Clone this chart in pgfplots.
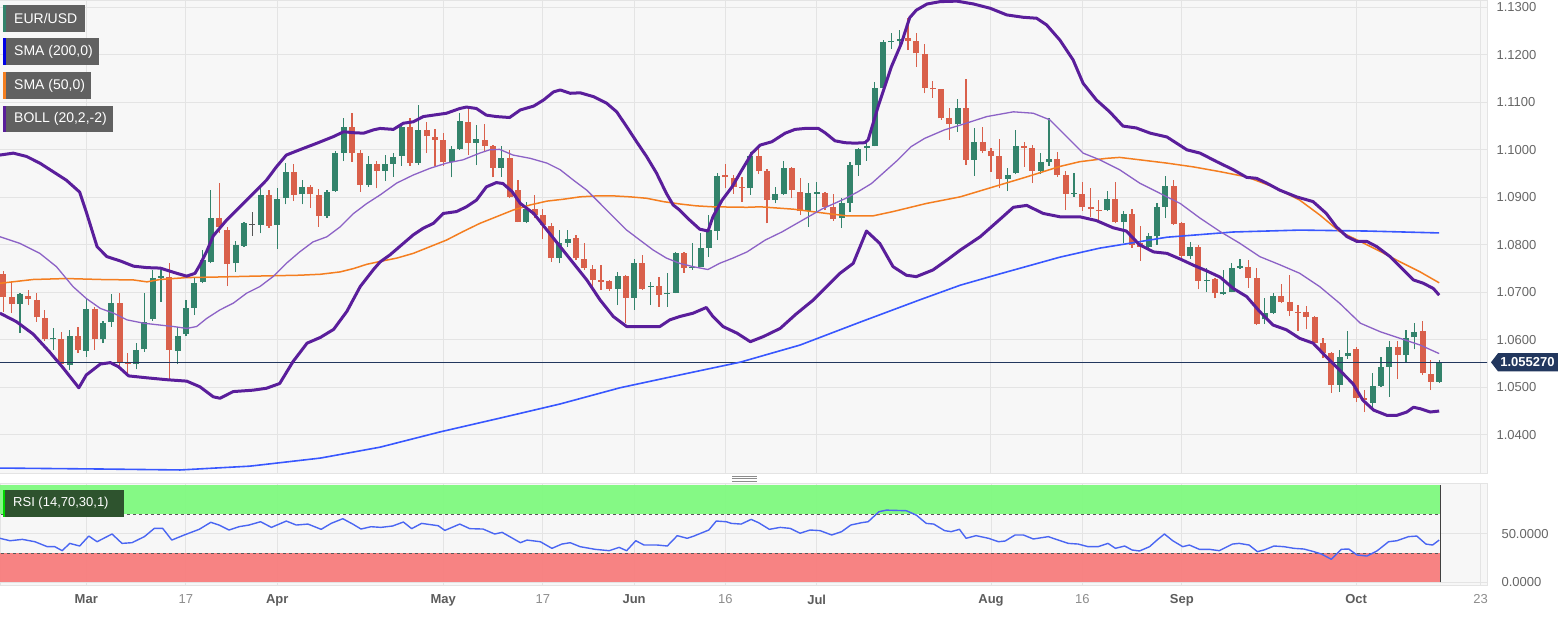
\documentclass[border=0pt]{standalone}
\usepackage{fontspec}
\setmainfont{Liberation Sans}
\usepackage{pgfplots}
\usepackage{pgfplotstable}
\pgfplotsset{compat=1.18}
\definecolor{bg}{HTML}{F7F7F7}
\definecolor{gridc}{HTML}{E4E4E4}
\definecolor{cgreen}{HTML}{33836B}
\definecolor{cred}{HTML}{D9604B}
\definecolor{cgray}{HTML}{555555}
\definecolor{bbthick}{HTML}{5A1E9B}
\definecolor{bbmid}{HTML}{8C62C6}
\definecolor{smafifty}{HTML}{F47E20}
\definecolor{smatwo}{HTML}{3857FF}
\definecolor{navy}{HTML}{22375E}
\definecolor{rsiline}{HTML}{4A66F2}
\definecolor{bandg}{HTML}{7DFA7D}
\definecolor{bandr}{HTML}{F87B7B}
\definecolor{legfill}{HTML}{616161}
\definecolor{rsifill}{HTML}{2E532E}
\definecolor{ticktext}{HTML}{666666}
\definecolor{monthtext}{HTML}{5C5C5C}
\definecolor{daytext}{HTML}{8C8C8C}

\pgfplotstableread{
j o h l c
2 1.0675 1.0699 1.0614 1.0696
6 1.0601 1.0625 1.0579 1.0603
8 1.0547 1.0621 1.0536 1.0608
10 1.0577 1.0687 1.0564 1.0665
12 1.0601 1.0640 1.0593 1.0635
13 1.0637 1.0696 1.0628 1.0677
16 1.0549 1.0593 1.0538 1.0579
17 1.0580 1.0699 1.0575 1.0637
18 1.0643 1.0747 1.0640 1.0731
19 1.0731 1.0747 1.0680 1.0735
21 1.0577 1.0628 1.0549 1.0609
22 1.0612 1.0684 1.0608 1.0666
23 1.0668 1.0730 1.0652 1.0720
24 1.0722 1.0789 1.0719 1.0768
25 1.0764 1.0915 1.0761 1.0856
28 1.0761 1.0807 1.0743 1.0800
29 1.0798 1.0849 1.0796 1.0845
31 1.0842 1.0926 1.0824 1.0905
33 1.0842 1.0919 1.0791 1.0896
34 1.0898 1.0973 1.0885 1.0954
36 1.0906 1.0936 1.0885 1.0922
39 1.0861 1.0915 1.0856 1.0912
40 1.0913 1.0998 1.0912 1.0993
41 1.0994 1.1068 1.0976 1.1047
44 1.0926 1.0986 1.0922 1.0971
46 1.0956 1.0989 1.0935 1.0970
47 1.0971 1.0993 1.0943 1.0985
48 1.0987 1.1056 1.0966 1.1047
50 1.0973 1.1094 1.0968 1.1042
54 1.0975 1.1007 1.0942 1.1001
55 1.1001 1.1077 1.1000 1.1061
57 1.1015 1.1052 1.0968 1.1022
60 1.0962 1.1008 1.0943 1.0982
63 1.0849 1.0891 1.0845 1.0875
67 1.0772 1.0831 1.0761 1.0803
68 1.0804 1.0831 1.0796 1.0812
74 1.0708 1.0743 1.0673 1.0735
76 1.0689 1.0770 1.0663 1.0761
78 1.0711 1.0722 1.0673 1.0714
80 1.0696 1.0740 1.0670 1.0699
81 1.0699 1.0785 1.0698 1.0782
83 1.0751 1.0803 1.0747 1.0754
84 1.0754 1.0824 1.0754 1.0794
85 1.0794 1.0863 1.0775 1.0831
86 1.0830 1.0951 1.0810 1.0945
90 1.0919 1.0996 1.0905 1.0988
93 1.0894 1.0922 1.0887 1.0906
94 1.0906 1.0977 1.0905 1.0961
97 1.0871 1.0931 1.0838 1.0910
98 1.0908 1.0933 1.0870 1.0912
101 1.0856 1.0898 1.0835 1.0887
102 1.0889 1.0975 1.0870 1.0967
103 1.0967 1.1003 1.0945 1.1001
104 1.1003 1.1014 1.0977 1.1008
105 1.1008 1.1143 1.1007 1.1131
106 1.1131 1.1231 1.1130 1.1226
107 1.1226 1.1245 1.1212 1.1229
108 1.1229 1.1252 1.1210 1.1233
115 1.1054 1.1107 1.1038 1.1087
117 1.0979 1.1045 1.0945 1.1017
121 1.0939 1.0961 1.0913 1.0948
122 1.0951 1.1042 1.0949 1.1009
125 1.0956 1.0994 1.0949 1.0975
126 1.0975 1.1066 1.0966 1.0981
129 1.0907 1.0951 1.0901 1.0909
133 1.0873 1.0913 1.0871 1.0896
135 1.0847 1.0871 1.0803 1.0864
138 1.0796 1.0825 1.0793 1.0818
139 1.0818 1.0888 1.0800 1.0880
140 1.0880 1.0945 1.0856 1.0924
143 1.0776 1.0806 1.0771 1.0795
145 1.0724 1.0751 1.0701 1.0726
147 1.0696 1.0746 1.0695 1.0701
148 1.0701 1.0761 1.0700 1.0751
149 1.0751 1.0770 1.0749 1.0755
152 1.0643 1.0687 1.0633 1.0657
153 1.0656 1.0699 1.0654 1.0692
161 1.0505 1.0579 1.0491 1.0564
162 1.0565 1.0618 1.0560 1.0573
165 1.0467 1.0530 1.0456 1.0503
166 1.0503 1.0564 1.0501 1.0543
167 1.0543 1.0598 1.0480 1.0585
169 1.0568 1.0621 1.0554 1.0603
170 1.0605 1.0635 1.0580 1.0617
173 1.0512 1.0557 1.0510 1.0553
}\greentab

\pgfplotstableread{
j o h l c
0 1.0738 1.0745 1.0659 1.0691
1 1.0690 1.0722 1.0656 1.0675
3 1.0693 1.0705 1.0673 1.0686
4 1.0684 1.0698 1.0638 1.0647
5 1.0645 1.0663 1.0598 1.0602
7 1.0602 1.0617 1.0540 1.0549
9 1.0608 1.0628 1.0572 1.0579
11 1.0665 1.0670 1.0579 1.0601
14 1.0677 1.0698 1.0543 1.0551
15 1.0554 1.0572 1.0526 1.0549
20 1.0733 1.0761 1.0515 1.0579
26 1.0856 1.0930 1.0824 1.0837
27 1.0831 1.0838 1.0713 1.0760
32 1.0905 1.0915 1.0836 1.0840
35 1.0953 1.0971 1.0892 1.0905
37 1.0922 1.0926 1.0877 1.0906
38 1.0905 1.0918 1.0838 1.0861
42 1.1047 1.1077 1.0975 1.0993
43 1.0993 1.1000 1.0912 1.0926
45 1.0971 1.0977 1.0919 1.0956
49 1.1047 1.1068 1.0966 1.0973
51 1.1042 1.1059 1.0993 1.1029
52 1.1028 1.1044 1.0966 1.1021
53 1.1020 1.1036 1.0966 1.0975
56 1.1059 1.1090 1.0989 1.1014
58 1.1021 1.1054 1.0995 1.1008
59 1.1008 1.1010 1.0942 1.0962
61 1.0982 1.1000 1.0898 1.0901
62 1.0915 1.0936 1.0847 1.0849
64 1.0875 1.0905 1.0856 1.0863
65 1.0863 1.0875 1.0812 1.0842
66 1.0840 1.0845 1.0764 1.0772
69 1.0814 1.0821 1.0768 1.0772
70 1.0770 1.0803 1.0747 1.0751
71 1.0749 1.0758 1.0708 1.0726
72 1.0726 1.0758 1.0705 1.0722
73 1.0724 1.0726 1.0703 1.0708
75 1.0735 1.0736 1.0635 1.0689
77 1.0761 1.0779 1.0705 1.0708
79 1.0714 1.0733 1.0670 1.0694
82 1.0782 1.0785 1.0741 1.0751
87 1.0946 1.0971 1.0919 1.0942
88 1.0940 1.0948 1.0908 1.0922
89 1.0922 1.0943 1.0891 1.0919
91 1.0988 1.1007 1.0949 1.0955
92 1.0955 1.0959 1.0845 1.0894
95 1.0961 1.0964 1.0898 1.0915
96 1.0912 1.0941 1.0863 1.0871
99 1.0910 1.0912 1.0873 1.0880
100 1.0880 1.0908 1.0851 1.0854
109 1.1235 1.1277 1.1210 1.1230
110 1.1229 1.1245 1.1175 1.1203
111 1.1201 1.1223 1.1119 1.1131
112 1.1131 1.1145 1.1110 1.1127
113 1.1127 1.1128 1.1063 1.1066
114 1.1066 1.1087 1.1021 1.1054
116 1.1087 1.1149 1.0968 1.0979
118 1.1017 1.1047 1.0993 1.0998
119 1.0998 1.1003 1.0954 1.0986
120 1.0986 1.1022 1.0919 1.0939
123 1.1009 1.1017 1.0964 1.1004
124 1.1003 1.1011 1.0930 1.0956
127 1.0981 1.0996 1.0943 1.0947
128 1.0947 1.0955 1.0873 1.0907
130 1.0908 1.0933 1.0872 1.0880
131 1.0880 1.0919 1.0859 1.0875
132 1.0874 1.0894 1.0851 1.0871
134 1.0896 1.0933 1.0845 1.0847
136 1.0864 1.0876 1.0794 1.0800
137 1.0803 1.0839 1.0766 1.0796
141 1.0924 1.0936 1.0842 1.0844
142 1.0845 1.0849 1.0772 1.0776
144 1.0795 1.0800 1.0706 1.0724
146 1.0727 1.0731 1.0687 1.0698
150 1.0754 1.0767 1.0710 1.0730
151 1.0730 1.0751 1.0631 1.0633
154 1.0692 1.0717 1.0677 1.0680
155 1.0679 1.0736 1.0650 1.0661
156 1.0659 1.0673 1.0619 1.0657
157 1.0659 1.0671 1.0622 1.0648
158 1.0648 1.0650 1.0593 1.0594
159 1.0594 1.0603 1.0561 1.0573
160 1.0573 1.0575 1.0489 1.0505
163 1.0580 1.0584 1.0469 1.0477
164 1.0477 1.0494 1.0448 1.0473
168 1.0585 1.0598 1.0517 1.0568
171 1.0618 1.0640 1.0526 1.0530
172 1.0528 1.0557 1.0494 1.0512
}\redtab

\pgfplotstableread{
j o h l c
30 1.0842 1.0870 1.0819 1.0844
}\graytab

\newcommand{\tickfont}{\fontsize{13}{15}\selectfont}

\begin{document}
\begin{tikzpicture}
\useasboundingbox (0pt,0pt) rectangle (1558pt,622pt);

% ================= main price panel =================
\begin{axis}[
  at={(0pt,149pt)}, anchor=south west,
  width=1487pt, height=473pt, scale only axis,
  xmin=-0.398, xmax=178.76,
  ymin=1.03196, ymax=1.13154,
  axis background/.style={fill=bg},
  axis line style={draw=gridc, line width=1pt},
  xtick={10,22,33,53,65,76,87,98,119,130,142,163,178},
  xticklabels={},
  ytick={1.04,1.05,1.06,1.07,1.08,1.09,1.10,1.11,1.12,1.13},
  yticklabels={1.0400,1.0500,1.0600,1.0700,1.0800,1.0900,1.1000,1.1100,1.1200,1.1300},
  yticklabel pos=right,
  yticklabel style={font=\tickfont, text=ticktext, anchor=west, xshift=6pt},
  major tick length=0pt,
  grid=major, major grid style={draw=gridc, line width=1pt},
]
% candles: wicks then bodies
\addplot[draw=none, mark=none, error bars/.cd, y dir=plus, y explicit, error mark=none,
  error bar style={draw=cgreen, line width=1.2pt}]
  table[x=j, y=l, y error expr=\thisrow{h}-\thisrow{l}] {\greentab};
\addplot[draw=none, mark=none, error bars/.cd, y dir=plus, y explicit, error mark=none,
  error bar style={draw=cgreen, line width=6pt}]
  table[x=j, y=o, y error expr=\thisrow{c}-\thisrow{o}] {\greentab};
\addplot[draw=none, mark=none, error bars/.cd, y dir=plus, y explicit, error mark=none,
  error bar style={draw=cred, line width=1.2pt}]
  table[x=j, y=l, y error expr=\thisrow{h}-\thisrow{l}] {\redtab};
\addplot[draw=none, mark=none, error bars/.cd, y dir=plus, y explicit, error mark=none,
  error bar style={draw=cred, line width=6pt}]
  table[x=j, y=c, y error expr=\thisrow{o}-\thisrow{c}] {\redtab};
\addplot[draw=none, mark=none, error bars/.cd, y dir=plus, y explicit, error mark=none,
  error bar style={draw=cgray, line width=1.2pt}]
  table[x=j, y=l, y error expr=\thisrow{h}-\thisrow{l}] {\graytab};
\addplot[draw=none, mark=none, error bars/.cd, y dir=plus, y explicit, error mark=none,
  error bar style={draw=cgray, line width=6pt}]
  table[x=j, y=o, y error expr=\thisrow{c}-\thisrow{o}] {\graytab};

% last price line
\addplot[navy, line width=1.3pt] coordinates {(-1,1.05527) (180,1.05527)};

% SMA 200
\addplot[smatwo, line width=1.6pt] coordinates {
(-0.4,1.0330) (11.7,1.0328) (21.3,1.0326) (29.7,1.0334) (38.2,1.0351) (45.4,1.0374) (52.6,1.0406) (59.8,1.0435) (67.1,1.0465) (74.3,1.0499) (81.5,1.0526) (88.8,1.0553) (96.0,1.0589) (103.2,1.0637) (110.4,1.0684) (115.3,1.0715) (120.1,1.0739) (127.3,1.0774) (132.1,1.0793) (140.2,1.0816) (148.2,1.0827) (156.2,1.0831) (164.3,1.0829) (173.0,1.0825)};

% SMA 50
\addplot[smafifty, line width=1.5pt] coordinates {
(-0.4,1.0719) (3.6,1.0727) (7.6,1.0729) (11.7,1.0727) (15.7,1.0726) (17.3,1.0722) (18.9,1.0727) (22.1,1.0731) (25.3,1.0732) (30.1,1.0734) (35.7,1.0736) (38.2,1.0738) (40.6,1.0743) (42.2,1.0750) (43.8,1.0759) (45.4,1.0765) (47.4,1.0772) (49.4,1.0782) (51.4,1.0796) (53.4,1.0810) (55.4,1.0828) (57.4,1.0845) (59.4,1.0859) (61.4,1.0873) (63.5,1.0884) (65.5,1.0892) (67.5,1.0896) (69.5,1.0901) (71.5,1.0903) (73.5,1.0903) (75.5,1.0901) (77.5,1.0898) (79.5,1.0891) (81.5,1.0886) (83.5,1.0882) (85.5,1.0880) (89.6,1.0879) (91.2,1.0880) (95.2,1.0875) (99.2,1.0866) (101.6,1.0861) (104.8,1.0861) (107.2,1.0870) (111.2,1.0887) (115.3,1.0901) (119.3,1.0922) (123.3,1.0943) (127.3,1.0965) (129.7,1.0975) (132.9,1.0982) (134.5,1.0984) (136.9,1.0979) (140.2,1.0972) (143.4,1.0964) (146.6,1.0954) (149.8,1.0943) (153.0,1.0922) (156.2,1.0894) (158.6,1.0863) (161.0,1.0828) (163.5,1.0807) (165.9,1.0786) (168.3,1.0764) (170.7,1.0743) (173.0,1.0720)};

% Bollinger middle
\addplot[bbmid, line width=1.3pt] coordinates {
(-0.4,1.0817) (2.0,1.0803) (4.4,1.0782) (6.4,1.0754) (8.4,1.0712) (10.0,1.0687) (11.7,1.0666) (13.3,1.0656) (14.9,1.0642) (16.9,1.0635) (18.9,1.0631) (20.5,1.0628) (22.1,1.0624) (23.3,1.0628) (24.5,1.0645) (26.1,1.0663) (27.7,1.0677) (29.3,1.0698) (30.9,1.0712) (32.5,1.0733) (34.1,1.0761) (35.7,1.0785) (37.3,1.0806) (39.0,1.0817) (40.6,1.0838) (42.2,1.0866) (43.8,1.0887) (45.4,1.0905) (47.4,1.0930) (49.4,1.0947) (51.4,1.0961) (53.4,1.0972) (55.4,1.0979) (57.4,1.0993) (58.6,1.1000) (59.8,1.1001) (61.4,1.0989) (63.5,1.0982) (65.5,1.0972) (67.1,1.0958) (68.7,1.0936) (70.3,1.0915) (71.9,1.0887) (73.5,1.0859) (75.1,1.0831) (76.7,1.0810) (78.3,1.0789) (79.9,1.0772) (81.5,1.0761) (83.1,1.0754) (84.9,1.0748) (86.3,1.0761) (87.9,1.0772) (89.6,1.0785) (91.8,1.0810) (93.8,1.0827) (96.6,1.0855) (98.7,1.0876) (101.4,1.0897) (103.0,1.0912) (104.6,1.0929) (106.2,1.0954) (107.8,1.0979) (109.4,1.1007) (111.0,1.1024) (113.4,1.1042) (115.3,1.1052) (118.5,1.1070) (121.7,1.1080) (124.1,1.1077) (126.1,1.1063) (128.1,1.1028) (130.1,1.0993) (132.1,1.0979) (134.5,1.0958) (136.9,1.0930) (139.4,1.0908) (141.8,1.0887) (144.2,1.0856) (146.6,1.0828) (149.0,1.0803) (151.4,1.0775) (153.8,1.0758) (156.2,1.0740) (158.6,1.0712) (161.0,1.0677) (163.5,1.0635) (165.9,1.0617) (168.3,1.0603) (170.7,1.0589) (173.0,1.0571)};

% Bollinger upper
\addplot[bbthick, line width=3pt, line join=round] coordinates {
(-0.4,1.0989) (1.2,1.0993) (2.8,1.0986) (4.4,1.0972) (6.0,1.0954) (7.6,1.0936) (9.2,1.0911) (10.0,1.0869) (11.3,1.0796) (12.5,1.0775) (14.1,1.0766) (15.7,1.0755) (17.3,1.0752) (18.9,1.0751) (20.9,1.0740) (22.1,1.0734) (23.1,1.0740) (23.7,1.0758) (24.5,1.0786) (25.3,1.0819) (26.9,1.0852) (28.5,1.0880) (30.1,1.0908) (31.7,1.0936) (32.9,1.0964) (34.1,1.0989) (35.7,1.1000) (37.8,1.1014) (39.8,1.1028) (41.0,1.1038) (42.2,1.1036) (43.4,1.1035) (44.6,1.1042) (45.4,1.1045) (47.0,1.1043) (48.2,1.1056) (49.4,1.1059) (50.6,1.1070) (51.8,1.1073) (53.4,1.1077) (55.0,1.1087) (55.8,1.1090) (57.0,1.1087) (58.2,1.1073) (59.4,1.1070) (61.0,1.1068) (62.3,1.1084) (63.9,1.1092) (65.1,1.1105) (66.3,1.1122) (67.1,1.1126) (68.3,1.1119) (69.5,1.1120) (71.1,1.1112) (72.7,1.1098) (73.9,1.1080) (75.1,1.1049) (76.3,1.1017) (77.5,1.0986) (78.7,1.0951) (79.9,1.0908) (80.7,1.0884) (81.5,1.0873) (82.7,1.0852) (83.9,1.0833) (84.9,1.0829) (85.5,1.0859) (86.6,1.0894) (87.8,1.0922) (89.0,1.0958) (90.2,1.0993) (91.2,1.1010) (92.6,1.1017) (94.2,1.1035) (95.4,1.1043) (96.6,1.1045) (98.2,1.1045) (99.0,1.1036) (100.2,1.1019) (101.4,1.1015) (102.6,1.1014) (103.8,1.1015) (104.2,1.1021) (104.8,1.1056) (105.4,1.1091) (106.2,1.1133) (107.0,1.1175) (108.2,1.1224) (109.2,1.1278) (110.0,1.1294) (111.3,1.1307) (112.9,1.1312) (114.9,1.1313) (116.9,1.1307) (118.9,1.1298) (120.9,1.1284) (122.9,1.1279) (124.5,1.1277) (125.7,1.1263) (127.3,1.1231) (128.9,1.1189) (130.1,1.1140) (131.7,1.1105) (133.3,1.1080) (134.9,1.1050) (136.5,1.1046) (138.2,1.1035) (140.2,1.1027) (142.6,1.1000) (144.2,1.0993) (146.2,1.0975) (148.2,1.0958) (149.8,1.0942) (151.0,1.0940) (152.2,1.0930) (153.8,1.0915) (155.8,1.0901) (157.8,1.0891) (159.4,1.0866) (160.6,1.0838) (161.9,1.0817) (163.1,1.0807) (164.3,1.0807) (165.5,1.0796) (167.1,1.0775) (168.3,1.0754) (169.9,1.0726) (171.1,1.0719) (172.3,1.0708) (173.0,1.0694)};

% Bollinger lower
\addplot[bbthick, line width=3pt, line join=round] coordinates {
(-0.4,1.0656) (1.6,1.0638) (3.6,1.0612) (5.6,1.0574) (7.2,1.0541) (9.1,1.0499) (10.0,1.0526) (11.7,1.0549) (12.9,1.0552) (13.9,1.0543) (15.1,1.0524) (17.3,1.0520) (19.7,1.0516) (22.1,1.0513) (23.7,1.0501) (25.3,1.0480) (26.1,1.0477) (27.7,1.0491) (30.1,1.0494) (31.7,1.0498) (33.3,1.0508) (34.9,1.0554) (36.6,1.0593) (38.2,1.0605) (39.8,1.0622) (41.4,1.0660) (43.0,1.0712) (44.6,1.0748) (45.4,1.0764) (46.6,1.0779) (48.2,1.0803) (49.4,1.0821) (50.6,1.0835) (51.8,1.0845) (53.0,1.0866) (54.6,1.0870) (55.8,1.0880) (57.0,1.0894) (58.2,1.0922) (59.4,1.0931) (60.2,1.0929) (61.3,1.0912) (62.3,1.0887) (63.9,1.0866) (65.5,1.0831) (67.1,1.0796) (68.7,1.0761) (70.3,1.0726) (71.9,1.0684) (73.5,1.0649) (75.1,1.0628) (77.1,1.0628) (79.1,1.0628) (80.3,1.0642) (81.5,1.0649) (83.1,1.0656) (84.7,1.0668) (85.5,1.0649) (86.7,1.0628) (88.4,1.0614) (90.0,1.0596) (91.6,1.0607) (93.6,1.0624) (95.5,1.0654) (97.6,1.0684) (99.2,1.0712) (100.8,1.0740) (102.4,1.0761) (104.0,1.0829) (105.6,1.0803) (107.2,1.0754) (108.8,1.0736) (110.0,1.0733) (112.0,1.0747) (113.7,1.0768) (115.3,1.0789) (117.7,1.0817) (120.1,1.0854) (121.7,1.0879) (123.3,1.0883) (125.3,1.0866) (127.3,1.0859) (129.7,1.0859) (131.7,1.0851) (133.7,1.0836) (135.3,1.0829) (136.9,1.0800) (138.6,1.0785) (140.2,1.0782) (141.8,1.0770) (143.4,1.0757) (145.0,1.0745) (146.6,1.0732) (148.2,1.0708) (149.8,1.0691) (151.4,1.0659) (153.0,1.0631) (154.6,1.0621) (156.2,1.0603) (157.8,1.0593) (159.4,1.0564) (161.0,1.0536) (162.6,1.0508) (163.8,1.0473) (165.1,1.0452) (166.7,1.0441) (167.9,1.0441) (169.1,1.0448) (169.9,1.0458) (170.7,1.0455) (171.9,1.0448) (173.0,1.0450)};
\end{axis}

% ================= RSI panel =================
\begin{axis}[
  at={(0pt,36.8pt)}, anchor=south west,
  width=1487pt, height=101.4pt, scale only axis,
  xmin=-0.398, xmax=178.76, ymin=-3, ymax=101,
  axis background/.style={fill=bg},
  axis line style={draw=gridc, line width=1pt},
  xtick={10,22,33,53,65,76,87,98,119,130,142,163,178},
  xticklabels={{\bfseries\color{monthtext}Mar},{\color{daytext}17},{\bfseries\color{monthtext}Apr},{\bfseries\color{monthtext}May},{\color{daytext}17},{\bfseries\color{monthtext}Jun},{\color{daytext}16},{\bfseries\color{monthtext}Jul},{\bfseries\color{monthtext}Aug},{\color{daytext}16},{\bfseries\color{monthtext}Sep},{\bfseries\color{monthtext}Oct},{\color{daytext}23}},
  xticklabel style={font=\tickfont, yshift=-6pt},
  ytick={0,50}, yticklabels={0.0000,50.0000},
  yticklabel pos=right,
  yticklabel style={font=\tickfont, text=ticktext, anchor=west, xshift=11pt},
  major tick length=0pt,
  grid=major, major grid style={draw=gridc, line width=1pt},
]
\fill[bandg, fill opacity=0.93] (axis cs:-1,70) rectangle (axis cs:173.1,100);
\fill[bandr, fill opacity=0.93] (axis cs:-1,0) rectangle (axis cs:173.1,30);
\draw[black!65, dashed, line width=0.9pt] (axis cs:-1,70) -- (axis cs:173.1,70);
\draw[black!65, dashed, line width=0.9pt] (axis cs:-1,30) -- (axis cs:173.1,30);
\draw[black!75, line width=1pt] (axis cs:173.1,0) -- (axis cs:173.1,100);
\addplot[rsiline, line width=1.4pt, line join=round] coordinates {
(-0.4,45.1) (0.8,42.6) (2.3,44.0) (3.8,41.6) (5.3,36.5) (6.2,36.5) (7.1,32.4) (8.0,39.9) (9.2,37.2) (10.3,47.4) (11.3,41.6) (13.1,49.5) (14.3,39.9) (15.5,40.6) (17.0,46.8) (18.2,55.3) (19.2,55.3) (20.3,43.3) (21.8,48.5) (23.6,54.3) (25.0,61.5) (26.0,58.7) (27.2,53.6) (28.4,57.0) (29.6,58.7) (31.0,62.1) (32.3,56.3) (34.1,62.8) (35.3,58.7) (36.7,59.7) (38.3,54.3) (39.5,60.4) (40.9,65.2) (42.1,59.7) (43.1,54.6) (44.3,57.0) (45.5,56.3) (46.9,57.7) (48.2,61.8) (49.2,55.0) (50.4,60.4) (52.4,58.0) (53.2,53.2) (55.0,59.7) (56.2,55.0) (57.8,54.6) (59.2,49.5) (60.1,51.2) (62.3,40.6) (63.1,43.3) (64.7,41.6) (66.1,34.8) (67.3,39.2) (68.3,40.6) (69.5,36.5) (71.3,33.8) (73.0,32.4) (74.2,35.8) (75.1,32.4) (76.2,42.6) (77.2,38.2) (78.8,38.2) (80.0,37.2) (81.2,47.8) (82.4,45.1) (83.2,47.4) (85.0,53.6) (85.9,62.8) (87.1,62.1) (87.7,60.4) (88.9,59.7) (90.1,64.5) (91.0,61.1) (92.3,54.3) (93.6,56.3) (94.8,55.3) (96.0,50.3) (97.2,53.6) (98.4,53.0) (99.8,48.5) (101.0,51.9) (102.1,58.7) (103.4,61.1) (104.2,62.1) (105.5,72.4) (106.4,74.0) (108.8,73.4) (110.0,68.9) (111.2,60.4) (112.1,59.7) (113.4,53.0) (114.2,51.9) (115.2,54.3) (116.0,45.1) (117.2,47.8) (118.7,45.1) (119.9,41.6) (120.7,42.3) (121.9,48.5) (122.9,48.5) (124.1,44.4) (125.9,46.8) (127.1,43.3) (128.3,39.9) (129.5,39.2) (130.7,36.5) (131.9,36.5) (133.1,39.9) (134.0,34.8) (135.1,37.2) (136.0,33.1) (136.9,32.1) (138.1,36.5) (139.1,44.0) (139.9,49.5) (140.9,42.6) (142.1,36.5) (142.9,38.2) (144.1,33.8) (145.3,33.8) (146.5,32.4) (148.1,39.2) (148.9,39.9) (150.1,38.2) (151.1,31.4) (151.9,33.1) (153.1,37.2) (154.3,36.5) (155.5,34.8) (156.7,34.1) (157.9,31.4) (158.8,29.0) (160.0,23.6) (161.2,33.8) (162.1,34.1) (163.1,28.0) (164.3,26.9) (165.5,32.1) (166.9,41.6) (167.9,42.6) (169.3,46.8) (170.3,47.4) (171.4,39.2) (172.2,38.2) (173.0,43.3)};
\end{axis}

% ================= overlays (labels, boxes) =================
\begin{scope}[x=1pt,y=1pt]
  % legend boxes
  \fill[legfill] (3,590) rectangle (85,617);
  \fill[cgreen] (3,590) rectangle (6,617);
  \node[anchor=west, text=white, font=\fontsize{14}{16}\selectfont, inner sep=0pt] at (14,603.5) {EUR/USD};
  \fill[legfill] (3,556.5) rectangle (99,584);
  \fill[blue!90!black] (3,556.5) rectangle (6,584);
  \node[anchor=west, text=white, font=\fontsize{14}{16}\selectfont, inner sep=0pt] at (14,570.2) {SMA (200,0)};
  \fill[legfill] (3,522.5) rectangle (91,550);
  \fill[smafifty] (3,522.5) rectangle (6,550);
  \node[anchor=west, text=white, font=\fontsize{14}{16}\selectfont, inner sep=0pt] at (14,536.2) {SMA (50,0)};
  \fill[legfill] (3,489.5) rectangle (113,516);
  \fill[bbthick] (3,489.5) rectangle (6,516);
  \node[anchor=west, text=white, font=\fontsize{14}{16}\selectfont, inner sep=0pt] at (14,502.7) {BOLL (20,2,-2)};
  % RSI label
  \fill[rsifill] (2.5,105.3) rectangle (124,132);
  \fill[green!85!black] (2.5,105.3) rectangle (5,132);
  \node[anchor=west, text=white, font=\fontsize{13}{15}\selectfont, inner sep=0pt] at (13,118.6) {RSI (14,70,30,1)};
  % price tag
  \fill[navy] (1491,259.7) -- (1498,268.8) -- (1558,268.8) -- (1558,250.6) -- (1498,250.6) -- cycle;
  \node[text=white, font=\bfseries\fontsize{13}{15}\selectfont, inner sep=0pt] at (1527.5,259.7) {1.055270};
  % panel splitter handle
  \draw[black!45, line width=0.8pt] (732,146) -- (757,146);
  \draw[black!45, line width=0.8pt] (732,143.5) -- (757,143.5);
  \draw[black!45, line width=0.8pt] (732,141) -- (757,141);
\end{scope}
\end{tikzpicture}
\end{document}
